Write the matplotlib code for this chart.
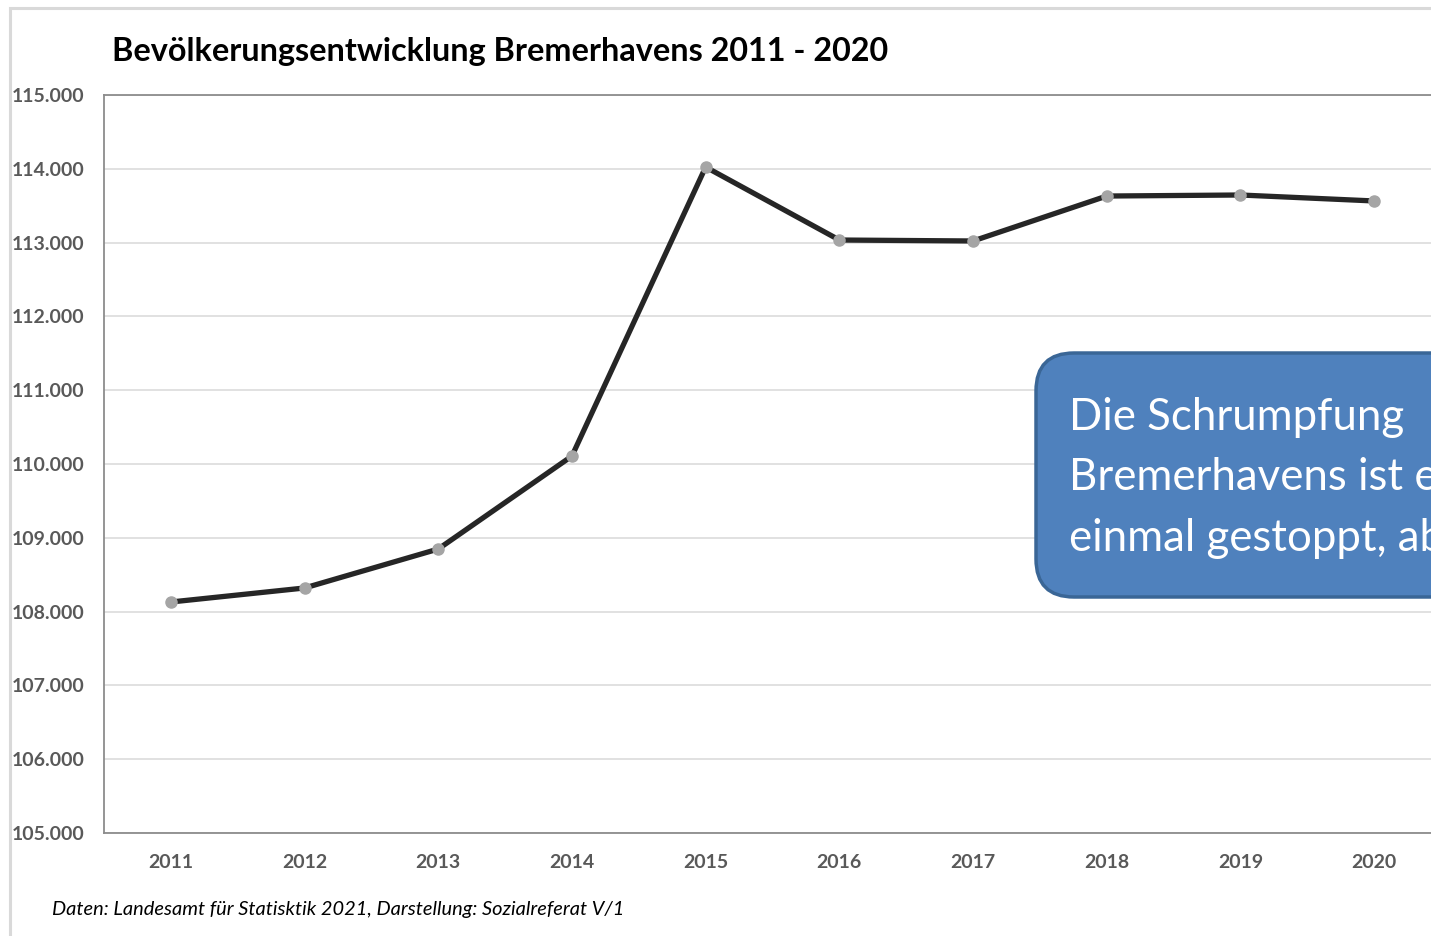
import matplotlib
matplotlib.use("Agg")
import matplotlib.pyplot as plt
from matplotlib.patches import FancyBboxPatch, Rectangle
from matplotlib.transforms import IdentityTransform
from matplotlib.ticker import FuncFormatter

years = ["2011", "2012", "2013", "2014", "2015", "2016", "2017", "2018", "2019", "2020"]
population = [108130, 108320, 108848, 110108, 114024, 113035, 113022, 113631, 113645, 113564]
y_ticks = [105000, 106000, 107000, 108000, 109000, 110000, 111000, 112000, 113000, 114000, 115000]

title = "Bevölkerungsentwicklung Bremerhavens 2011 - 2020"
footer = "Daten: Landesamt für Statisktik 2021, Darstellung: Sozialreferat V/1"
note = "Die Schrumpfung\nBremerhavens ist erst\neinmal gestoppt, aber"

W, H = 1431, 936
DPI = 100
plt.rcParams['font.family'] = ['Lato', 'DejaVu Sans']

fig = plt.figure(figsize=(W / DPI, H / DPI), dpi=DPI)
fig.patch.set_facecolor("white")

# outer frame (light grey)
fig.add_artist(Rectangle((10, -20), W + 50, H - 8 + 20, transform=IdentityTransform(),
                         fill=False, edgecolor="#D9D9D9", linewidth=2.2, clip_on=False, zorder=0))

# axes: left 104, right 1441 (beyond figure), top 95, bottom 833
ax_left, ax_right, ax_top, ax_bottom = 104, 1441, 95, 833
ax = fig.add_axes([ax_left / W, (H - ax_bottom) / H, (ax_right - ax_left) / W, (ax_bottom - ax_top) / H])
ax.set_facecolor("none")

x = list(range(len(years)))
ax.plot(x, population, color="#262626", linewidth=3.8, solid_joinstyle="round", zorder=3)
ax.plot(x, population, linestyle="none", marker="o", markersize=8,
        markerfacecolor="#A5A5A5", markeredgecolor="#A5A5A5", zorder=4)

ax.set_xlim(-0.5, len(years) - 0.5)
ax.set_ylim(105000, 115000)
ax.set_xticks(x)
ax.set_xticklabels(years)
ax.set_yticks(y_ticks)
ax.yaxis.set_major_formatter(FuncFormatter(lambda v, p: f"{int(v):,}".replace(",", ".")))

ax.grid(axis="y", color="#D9D9D9", linewidth=1.1)
ax.set_axisbelow(True)
for s in ["left", "bottom", "top"]:
    ax.spines[s].set_color("#8C8C8C")
    ax.spines[s].set_linewidth(1.3)
ax.spines["right"].set_visible(False)

ax.tick_params(axis="both", length=0, labelcolor="#595959")
ax.tick_params(axis="y", pad=14)
ax.tick_params(axis="x", pad=15)
for lab in ax.get_xticklabels() + ax.get_yticklabels():
    lab.set_fontweight("bold")
    lab.set_fontsize(14)

fig.text(112 / W, (H - 52) / H, title, fontsize=23.3, fontweight="bold", color="black",
         ha="left", va="center")
fig.text(52 / W, (H - 909) / H, footer, fontsize=14.4, style="italic", color="black",
         ha="left", va="center")

# annotation box
box = FancyBboxPatch((1036, H - 597), 500, 244, boxstyle="round,pad=0,rounding_size=38",
                     transform=IdentityTransform(), facecolor="#4F81BD", edgecolor="#3A6696",
                     linewidth=2.5, clip_on=False, zorder=10)
fig.add_artist(box)
fig.text(1069 / W, (H - 478) / H, note, fontsize=31.5, color="white", ha="left", va="center",
         linespacing=1.58, zorder=11)

fig.savefig("out.png", dpi=DPI, facecolor="white")
